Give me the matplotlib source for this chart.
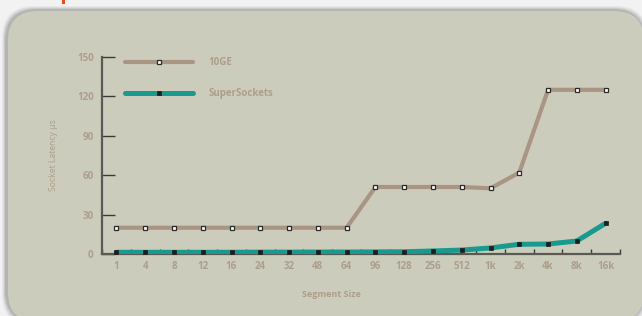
import numpy as np
import matplotlib
matplotlib.use("Agg")
import matplotlib.pyplot as plt
from matplotlib.patches import FancyBboxPatch, Rectangle

# Data
segment_sizes = ["1", "4", "8", "12", "16", "24", "32", "48", "64", "96",
                 "128", "256", "512", "1k", "2k", "4k", "8k", "16k"]
lat_10ge = [20, 20, 20, 20, 20, 20, 20, 20, 20, 51,
            51, 51, 51, 50, 62, 125, 125, 125]
lat_supersockets = [1.3, 1.3, 1.3, 1.3, 1.3, 1.4, 1.4, 1.5, 1.5, 1.6,
                    1.7, 2.3, 3.0, 4.6, 7.4, 7.6, 9.9, 23.4]
y_ticks = [0, 30, 60, 90, 120, 150]

TAN_TEXT = "#ad9e8c"
C_10GE = "#a89584"
C_SS = "#189a8e"
PANEL = "#ccccbc"

plt.rcParams['font.family'] = ['Open Sans', 'DejaVu Sans']

W, H = 6.42, 3.16
fig = plt.figure(figsize=(W, H), dpi=100)
fig.patch.set_facecolor("#f2f2f2")

# rounded panel with soft shadow (pixel -> inch coords)
def px(x, y):
    return x / 100.0, (316 - y) / 100.0

for i, a in enumerate([0.06, 0.09, 0.12, 0.17]):
    g = 4 - i
    x0, y0 = px(6 - g, 322 + g)
    x1, y1 = px(644 + g, 10 - g)
    fig.patches.append(FancyBboxPatch((x0, y0), x1 - x0, y1 - y0,
                                      boxstyle="round,pad=0,rounding_size=0.32",
                                      transform=fig.dpi_scale_trans,
                                      facecolor="#505050", edgecolor="none",
                                      alpha=a, zorder=-3))
x0, y0 = px(8, 322)
x1, y1 = px(644, 11)
fig.patches.append(FancyBboxPatch((x0, y0), x1 - x0, y1 - y0,
                                  boxstyle="round,pad=0,rounding_size=0.30",
                                  transform=fig.dpi_scale_trans,
                                  facecolor=PANEL, edgecolor="none", zorder=-2))
rx, ry = px(62, 4)
fig.patches.append(Rectangle((rx, ry), 0.03, 0.04, transform=fig.dpi_scale_trans,
                             facecolor="#f04a1a", edgecolor="none", zorder=-2))

ax = fig.add_axes([102 / 642, 62 / 316, 518 / 642, 197 / 316])
ax.set_facecolor("none")
ax.set_zorder(2)

x = np.arange(len(segment_sizes))
ax.plot(x, lat_10ge, color=C_10GE, lw=3, solid_capstyle="round",
        marker="s", ms=2.8, mfc="white", mec="#2a2a2a", mew=0.9, label="10GE", zorder=3)
ax.plot(x, lat_supersockets, color=C_SS, lw=3.6, solid_capstyle="round",
        marker="s", ms=3.2, mfc="#1e1e1e", mec="#1e1e1e", mew=0.5, label="SuperSockets", zorder=4)

ax.set_xlim(-0.5, len(segment_sizes) - 0.5)
ax.set_ylim(0, 150)

# y axis
ax.set_yticks(y_ticks)
ax.tick_params(axis="y", direction="in", length=9.5, width=1.0, color="#3a3a3a",
               pad=6, labelsize=7, labelcolor=TAN_TEXT)
# x axis: boundary ticks, centered labels
ax.set_xticks(np.arange(len(segment_sizes) + 1) - 0.5)
ax.set_xticklabels([])
ax.set_xticks(x, minor=True)
ax.set_xticklabels(segment_sizes, minor=True)
ax.tick_params(axis="x", which="major", direction="in", length=3.5, width=1.0, color="#3a3a3a")
ax.tick_params(axis="x", which="minor", length=0, pad=5, labelsize=7, labelcolor=TAN_TEXT)
for lab in ax.get_xticklabels(minor=True) + ax.get_yticklabels():
    lab.set_fontweight("bold")

for s in ["top", "right"]:
    ax.spines[s].set_visible(False)
ax.spines["left"].set_color("#5a5a55")
ax.spines["left"].set_linewidth(1.6)
ax.spines["bottom"].set_color("#5a5a55")
ax.spines["bottom"].set_linewidth(1.6)

ax.set_xlabel("Segment Size", fontsize=6.5, color=TAN_TEXT, fontweight="bold")
ax.xaxis.set_label_coords(0.442, -0.185)
ax.set_ylabel("Socket Latency µs", fontsize=6.2, color=TAN_TEXT)
ax.yaxis.set_label_coords(-0.085, 0.5)

leg = ax.legend(loc="upper left", bbox_to_anchor=(0.044, 1.0), frameon=False,
                handlelength=7.0, handletextpad=1.6, labelspacing=2.1,
                borderpad=0, borderaxespad=0, numpoints=1,
                prop={"size": 7, "weight": "bold"})
for t in leg.get_texts():
    t.set_color(TAN_TEXT)

fig.savefig("out.png", dpi=100, facecolor=fig.get_facecolor())
